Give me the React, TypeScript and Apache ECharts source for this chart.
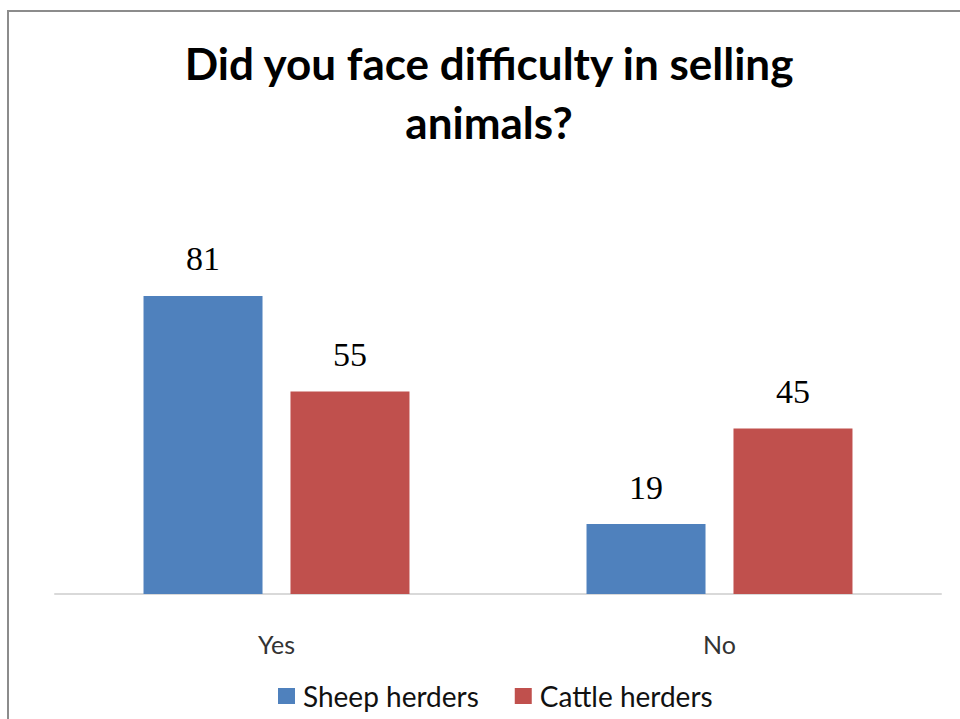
import React, { useEffect, useRef } from "react";
import * as echarts from "echarts";

const categories = ["Yes", "No"];
const sheepHerders = [81, 19];
const cattleHerders = [55, 45];
const seriesNames = ["Sheep herders", "Cattle herders"];
const titleText = "Did you face difficulty in selling\nanimals?";

export default function App() {
  const ref = useRef<HTMLDivElement>(null);
  useEffect(() => {
    document.body.style.margin = "0";
    const chart = echarts.init(ref.current!, undefined, { renderer: "svg" });
    const labelStyle = {
      show: true,
      position: "top" as const,
      distance: 20,
      fontFamily: "Liberation Serif",
      fontSize: 34,
      color: "#000",
    };
    chart.setOption({
      animation: false,
      backgroundColor: "#fff",
      title: {
        text: titleText,
        left: 484,
        textAlign: "center",
        top: 28,
        textStyle: {
          fontFamily: "Lato",
          fontWeight: "bold",
          fontSize: 44,
          lineHeight: 59,
          color: "#000",
        },
      },
      legend: {
        data: seriesNames,
        left: 273,
        top: 677,
        icon: "rect",
        itemWidth: 17,
        itemHeight: 16,
        itemGap: 36,
        textStyle: { fontFamily: "Lato", fontSize: 28, color: "#111", padding: [0, 0, 0, 3] },
      },
      graphic: [
        {
          type: "rect",
          shape: { x: 8, y: 11, width: 1000, height: 1000 },
          style: { fill: "none", stroke: "#8c8c8c", lineWidth: 2 },
          z: -1,
        },
      ],
      grid: { left: 55, right: 19, top: 226, bottom: 125 },
      xAxis: {
        type: "category",
        data: categories,
        axisLine: { lineStyle: { color: "#d9d9d9", width: 2 } },
        axisTick: { show: false },
        axisLabel: {
          margin: 37,
          fontFamily: "Lato",
          fontSize: 25,
          color: "#333",
        },
      },
      yAxis: {
        type: "value",
        min: 0,
        max: 100,
        show: false,
        splitLine: { show: false },
      },
      series: [
        {
          name: seriesNames[0],
          type: "bar",
          data: sheepHerders,
          barWidth: 119,
          barGap: "23.5%",
          itemStyle: { color: "#4F81BD" },
          label: labelStyle,
        },
        {
          name: seriesNames[1],
          type: "bar",
          data: cattleHerders,
          barWidth: 119,
          itemStyle: { color: "#C0504D" },
          label: labelStyle,
        },
      ],
    });
    return () => chart.dispose();
  }, []);
  return <div ref={ref} style={{ width: 960, height: 719 }} />;
}
